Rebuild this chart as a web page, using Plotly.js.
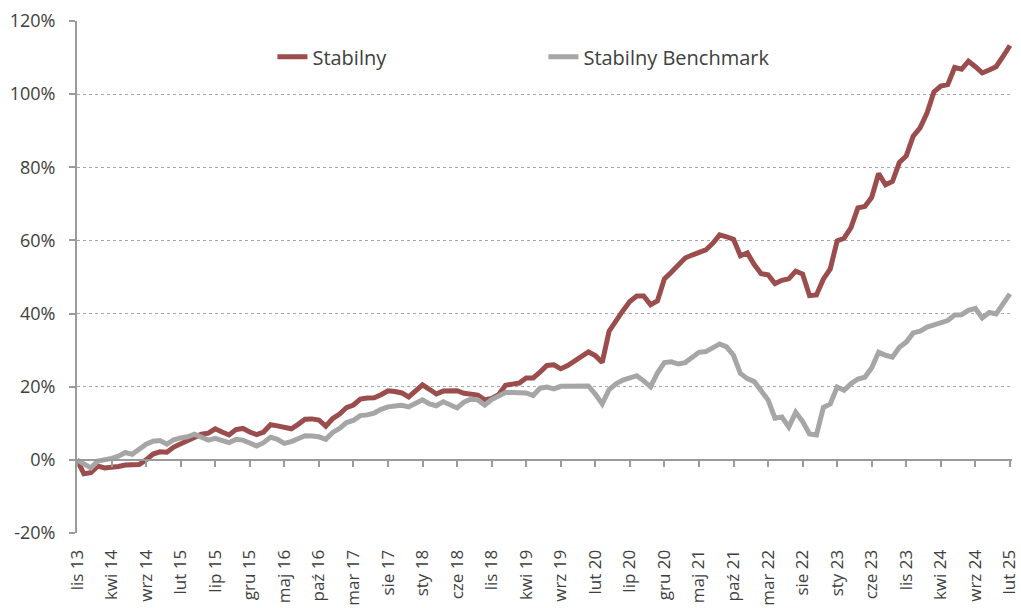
<!DOCTYPE html>
<html><head><meta charset="utf-8">
<script src="https://cdn.plot.ly/plotly-3.0.1.min.js"></script>
<style>html,body{margin:0;padding:0;background:#fff}#chart{width:1021px;height:608px}</style>
</head><body><div id="chart"></div>
<script>
// Month abbreviations (Polish) used to build the category labels
const monthNames = ['sty','lut','mar','kwi','maj','cze','lip','sie','wrz','paź','lis','gru'];
const startYear = 13;      // 2013
const startMonthIdx = 10;  // listopad
const nMonths = 136;       // lis 13 .. lut 25

const categories = [];
for (let k = 0; k < nMonths; k++) {
  const m = (startMonthIdx + k) % 12;
  const y = startYear + Math.floor((startMonthIdx + k) / 12);
  categories.push(monthNames[m] + ' ' + y);
}

// Cumulative return, %
const stabilny = [
  0.0, -3.8, -3.5, -1.7, -2.2, -2.1, -1.8, -1.4, -1.2, -1.3,
  0.0, 1.6, 2.2, 2.1, 3.5, 4.4, 5.4, 6.4, 7.0, 7.3,
  8.5, 7.6, 6.8, 8.3, 8.6, 7.6, 6.9, 7.6, 9.6, 9.3,
  8.9, 8.5, 9.7, 11.1, 11.2, 10.9, 9.2, 11.3, 12.5, 14.3,
  15.0, 16.6, 16.9, 17.0, 17.8, 18.9, 18.7, 18.3, 17.2, 19.0,
  20.5, 19.3, 18.0, 18.8, 19.0, 18.9, 18.2, 17.9, 17.7, 16.4,
  16.8, 17.8, 20.4, 20.7, 21.0, 22.4, 22.4, 24.0, 25.8, 26.0,
  24.9, 25.8, 27.1, 28.2, 29.5, 28.5, 26.6, 35.2, 38.2, 40.8,
  43.3, 44.8, 44.8, 42.4, 43.5, 49.5, 51.3, 53.3, 55.2, 56.0,
  56.6, 57.4, 59.2, 61.5, 61.0, 60.3, 55.8, 56.6, 53.4, 50.9,
  50.6, 48.2, 49.1, 49.5, 51.6, 50.8, 44.9, 45.1, 49.4, 52.2,
  59.9, 60.6, 63.5, 68.9, 69.3, 71.8, 78.3, 75.2, 76.1, 81.3,
  83.1, 88.5, 90.8, 94.8, 100.6, 102.2, 102.6, 107.3, 106.8, 109.0,
  107.5, 105.8, 106.6, 107.5, 110.3, 113.3
];
const benchmark = [
  0.0, -1.2, -2.2, -0.3, 0.0, 0.4, 1.0, 2.0, 1.5, 3.0,
  4.3, 5.1, 5.3, 4.3, 5.5, 6.0, 6.3, 7.0, 6.3, 5.4,
  5.9, 5.3, 4.7, 5.6, 5.4, 4.6, 3.8, 4.7, 6.2, 5.6,
  4.5, 5.0, 5.8, 6.6, 6.5, 6.3, 5.6, 7.5, 8.6, 10.2,
  10.8, 12.1, 12.3, 12.8, 13.8, 14.5, 14.7, 14.9, 14.5, 15.4,
  16.4, 15.3, 14.8, 15.9, 15.0, 14.2, 15.8, 16.6, 16.4, 15.0,
  16.5, 17.3, 18.4, 18.4, 18.2, 18.3, 17.6, 19.6, 19.9, 19.4,
  20.1, 20.2, 20.2, 20.2, 20.2, 18.0, 15.3, 19.2, 20.8, 21.8,
  22.4, 23.0, 21.6, 20.0, 23.8, 26.6, 26.8, 26.2, 26.6, 27.8,
  29.4, 29.6, 30.7, 31.7, 30.9, 28.6, 23.6, 22.2, 21.4, 19.0,
  16.4, 11.4, 11.7, 9.0, 13.0, 10.5, 7.1, 6.8, 14.3, 15.3,
  19.9, 19.0, 20.8, 22.1, 22.6, 25.2, 29.4, 28.6, 28.1, 30.8,
  32.2, 34.7, 35.2, 36.3, 36.9, 37.2, 38.1, 39.6, 39.7, 40.9,
  41.4, 38.8, 40.3, 39.9, 42.5, 45.4
];

const tickEvery = 5;
const tickCats = categories.filter((c, i) => i % tickEvery === 0);
const yTicks = [-20, 0, 20, 40, 60, 80, 100, 120];
const yTickText = yTicks.map(v => v + '%');

const FONT = 'Open Sans, DejaVu Sans, sans-serif';
const axisGrey = '#9a9a9a';

const traces = [
  {x: categories, y: stabilny, name: 'Stabilny', type: 'scatter', mode: 'lines',
   xaxis: 'x', line: {color: '#9a4d4c', width: 5}},
  {x: categories, y: benchmark, name: 'Stabilny Benchmark', type: 'scatter', mode: 'lines',
   xaxis: 'x2', line: {color: '#a6a6a6', width: 5}}
];

const xRange = [0, 135.3];
const layout = {
  width: 1021, height: 608,
  margin: {l: 77, r: 9, t: 21, b: 75},
  paper_bgcolor: '#fff', plot_bgcolor: '#fff',
  font: {family: FONT, color: '#404040', size: 17},
  showlegend: true,
  legend: {orientation: 'h', x: 0.209, xanchor: 'left', y: 0.93, yanchor: 'middle',
           font: {size: 20, color: '#404040'}, entrywidth: 226, entrywidthmode: 'pixels',
           bgcolor: 'rgba(0,0,0,0)'},
  xaxis: {type: 'category', range: xRange, tickmode: 'array', tickvals: tickCats, ticktext: tickCats,
          tickangle: -90, showgrid: false, zeroline: false, showline: false,
          ticks: 'outside', ticklen: 9, tickcolor: 'rgba(0,0,0,0)',
          tickfont: {size: 17, color: '#404040'}},
  xaxis2: {type: 'category', overlaying: 'x', anchor: 'free', position: 20/140, side: 'bottom',
           range: xRange, tickmode: 'array', tickvals: tickCats, showticklabels: false,
           showgrid: false, zeroline: false, showline: true, linecolor: axisGrey, linewidth: 2,
           ticks: 'outside', ticklen: 6, tickwidth: 2, tickcolor: axisGrey},
  yaxis: {range: [-20, 120], tickmode: 'array', tickvals: yTicks, ticktext: yTickText,
          showgrid: true, gridcolor: '#a8a8a8', gridwidth: 1, griddash: 'dot',
          zeroline: false, showline: true, linecolor: axisGrey, linewidth: 2,
          ticks: 'outside', ticklen: 6, tickwidth: 2, tickcolor: axisGrey,
          ticklabelstandoff: 10,
          tickfont: {size: 18, color: '#404040'}}
};

Plotly.newPlot('chart', traces, layout, {displayModeBar: false, staticPlot: true});
</script></body></html>
